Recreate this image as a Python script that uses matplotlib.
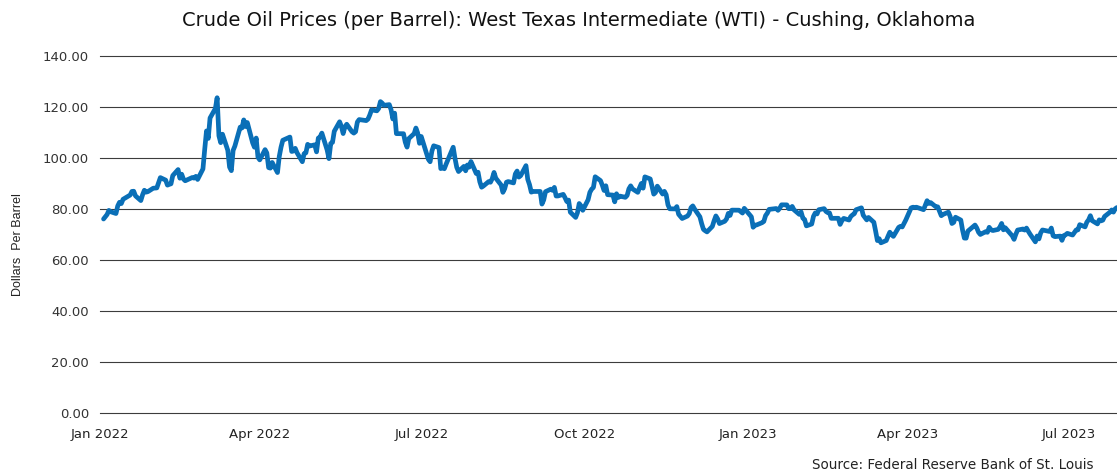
import matplotlib
matplotlib.use("Agg")
import matplotlib.pyplot as plt
import pandas as pd

# ---- data: WTI daily spot price, dollars per barrel ----
days_2022 = [
    [3,4,5,6,7,10,11,12,13,14,18,19,20,21,24,25,26,27,28,31],
    [1,2,3,4,7,8,9,10,11,14,15,16,17,18,22,23,24,25,28],
    [1,2,3,4,7,8,9,10,11,14,15,16,17,18,21,22,23,24,25,28,29,30,31],
    [1,4,5,6,7,8,11,12,13,14,18,19,20,21,22,25,26,27,28,29],
    [2,3,4,5,6,9,10,11,12,13,16,17,18,19,20,23,24,25,26,27,31],
    [1,2,3,6,7,8,9,10,13,14,15,16,17,21,22,23,24,27,28,29,30],
    [1,5,6,7,8,11,12,13,14,15,18,19,20,21,22,25,26,27,28,29],
    [1,2,3,4,5,8,9,10,11,12,15,16,17,18,19,22,23,24,25,26,29,30,31],
    [1,2,6,7,8,9,12,13,14,15,16,19,20,21,22,23,26,27,28,29,30],
    [3,4,5,6,7,10,11,12,13,14,17,18,19,20,21,24,25,26,27,28,31],
    [1,2,3,4,7,8,9,10,11,14,15,16,17,18,21,22,23,25,28,29,30],
    [1,2,5,6,7,8,9,12,13,14,15,16,19,20,21,22,23,27,28,29,30],
]
wti_2022 = [
    76.08,76.99,77.85,79.46,78.93,78.23,81.22,82.64,82.12,83.82,85.48,86.90,86.96,85.14,83.31,85.60,87.35,86.61,86.82,88.15,
    88.20,88.26,90.27,92.31,91.32,89.36,89.66,89.88,93.10,95.46,92.07,93.66,91.76,91.07,92.35,92.10,92.81,91.59,95.72,
    103.41,110.60,107.67,115.68,119.40,123.64,108.70,106.02,109.33,103.01,96.44,95.04,102.98,104.70,112.12,111.76,114.93,112.34,113.90,105.96,104.24,107.82,100.28,
    99.27,103.28,101.96,96.23,96.03,98.26,94.29,100.60,104.25,106.95,108.21,102.56,102.75,103.79,102.07,98.54,101.70,102.02,105.36,104.69,
    105.17,102.41,107.81,108.26,109.77,103.09,99.76,105.71,106.13,110.49,114.20,112.40,109.59,112.21,113.23,110.29,109.77,110.33,114.09,115.07,114.67,
    115.25,116.87,118.87,118.50,119.41,122.11,121.51,120.67,120.93,118.93,115.31,117.58,109.56,109.52,106.19,104.27,107.62,109.57,111.76,109.78,105.76,
    108.43,99.50,98.53,102.73,104.79,104.09,95.84,96.30,95.78,97.59,102.60,104.22,99.88,96.35,94.70,96.70,94.98,97.26,96.42,98.62,
    93.89,94.42,90.66,88.54,89.01,90.76,90.50,91.93,94.34,92.09,89.41,86.53,87.94,90.50,90.77,90.23,93.74,94.89,92.52,93.06,97.01,91.64,89.55,
    86.61,86.87,86.88,81.94,83.54,86.79,87.78,87.31,88.48,85.10,85.11,85.73,84.45,82.94,83.49,78.74,76.71,78.50,82.15,81.23,79.49,
    83.63,86.52,87.76,88.45,92.64,91.13,89.35,87.27,89.11,85.61,85.46,82.82,85.98,84.51,85.05,84.58,85.32,87.91,89.08,87.90,86.53,
    88.37,90.00,88.17,92.61,91.79,88.91,85.83,86.47,88.96,85.87,86.92,85.59,81.64,80.08,80.04,80.95,77.94,76.28,77.24,78.20,80.55,
    81.22,79.98,76.93,74.25,72.01,71.46,71.02,73.17,75.39,77.28,76.11,74.29,75.19,76.09,78.28,77.49,79.56,79.53,78.96,78.40,80.26,
]
days_2023 = [
    [3,4,5,6,9,10,11,12,13,17,18,19,20,23,24,25,26,27,30,31],
    [1,2,3,6,7,8,9,10,13,14,15,16,17,21,22,23,24,27,28],
    [1,2,3,6,7,8,9,10,13,14,15,16,17,20,21,22,23,24,27,28,29,30,31],
    [3,4,5,6,10,11,12,13,14,17,18,19,20,21,24,25,26,27,28],
    [1,2,3,4,5,8,9,10,11,12,15,16,17,18,19,22,23,24,25,26,30,31],
    [1,2,5,6,7,8,9,12,13,14,15,16,20,21,22,23,26,27,28,29,30],
    [3,5,6,7,10,11,12,13,14,17,18,19,20,21,24,25,26,27,28],
]
wti_2023 = [
    76.93,72.84,73.67,73.77,74.63,75.12,77.41,78.39,79.86,80.18,79.48,80.33,81.64,81.62,80.13,80.15,81.01,79.68,77.90,78.87,
    76.41,75.88,73.39,74.11,77.14,78.47,78.06,79.72,80.14,79.06,78.59,78.49,76.34,76.36,73.95,75.39,76.32,75.68,77.05,
    77.69,78.16,79.72,80.46,77.58,76.66,75.72,76.68,74.80,71.33,67.61,68.35,66.74,67.64,69.33,70.90,69.96,69.26,72.81,73.20,72.97,74.37,75.68,
    80.42,80.71,80.61,80.70,79.74,81.53,83.26,82.16,82.52,80.83,80.86,79.16,77.37,77.87,78.76,77.07,74.30,74.76,76.78,
    75.66,71.66,68.60,68.56,71.34,73.16,73.71,72.56,70.87,70.02,71.11,70.86,72.83,71.86,71.55,71.99,72.91,74.34,71.83,72.67,69.46,68.09,
    70.10,71.74,72.15,71.74,72.53,71.29,70.17,67.12,69.42,68.27,70.62,71.78,71.19,72.53,69.51,69.16,69.37,67.70,69.56,69.86,70.45,
    69.79,71.79,71.80,73.86,72.99,74.83,75.75,77.38,75.42,74.15,75.75,75.35,75.63,77.07,78.74,79.63,78.78,80.09,80.58,
]
y_ticks = [0, 20, 40, 60, 80, 100, 120, 140]
x_tick_labels = ["Jan 2022", "Apr 2022", "Jul 2022", "Oct 2022", "Jan 2023", "Apr 2023", "Jul 2023"]

title = "Crude Oil Prices (per Barrel): West Texas Intermediate (WTI) - Cushing, Oklahoma"
y_label = "Dollars  Per Barrel"
source = "Source: Federal Reserve Bank of St. Louis"

# ---- build series ----
dates = []
for year, days in ((2022, days_2022), (2023, days_2023)):
    for m, dl in enumerate(days, start=1):
        for d in dl:
            dates.append(pd.Timestamp(year, m, d))
prices = wti_2022 + wti_2023
assert len(dates) == len(prices)

# ---- figure ----
W, H = 1117, 471
fig = plt.figure(figsize=(W / 100, H / 100), dpi=100)
ax = fig.add_axes([100 / W, 1 - 413 / H, 1017 / W, 357 / H])

ax.plot(dates, prices, color="#0a6fb7", lw=3.4, solid_joinstyle="round", solid_capstyle="round", zorder=3)

ax.set_ylim(0, 140)
ax.set_xlim(pd.Timestamp(2022, 1, 1), dates[-1])
ax.set_yticks(y_ticks)
ax.set_yticklabels([f"{v:.2f}" for v in y_ticks])
ax.yaxis.grid(True, color="#3c3c3c", lw=0.8)
for gl in ax.yaxis.get_gridlines():
    gl.set_clip_on(False)
ax.set_axisbelow(True)

xt = pd.date_range("2022-01-01", periods=len(x_tick_labels), freq="3MS")
ax.set_xticks(xt)
ax.set_xticklabels(x_tick_labels)

for s in ax.spines.values():
    s.set_visible(False)
ax.tick_params(axis="y", length=0, pad=8, labelsize=9.5, labelcolor="#333333")
ax.tick_params(axis="x", length=0, pad=11, labelsize=9.5, labelcolor="#222222")
for lab in ax.get_xticklabels() + ax.get_yticklabels():
    lab.set_family("DejaVu Sans")

fig.text(579 / W, 1 - 21 / H, title, ha="center", va="center", fontsize=14, family="DejaVu Sans", color="#111111")
fig.text(18 / W, 1 - 245 / H, y_label, ha="center", va="center", rotation=90, fontsize=9, family="Liberation Sans", color="#222222")
fig.text(1094 / W, 1 - 465 / H, source, ha="right", va="center", fontsize=9.75, family="DejaVu Sans", color="#222222")

fig.savefig("out.png", dpi=100)
